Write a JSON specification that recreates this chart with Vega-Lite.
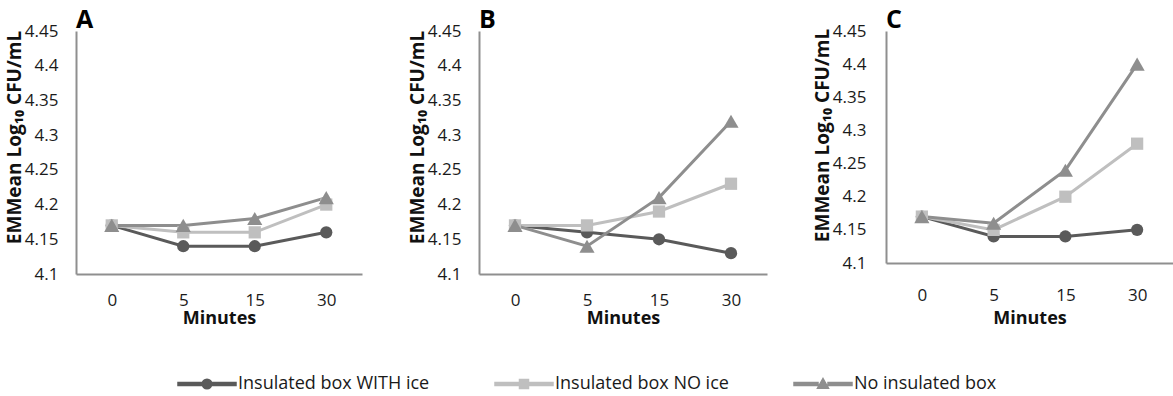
{
  "$schema": "https://vega.github.io/schema/vega-lite/v6.json",
  "background": "white",
  "padding": {"left": 5, "top": 8, "right": 0, "bottom": 4},
  "data": {"values": [
    {"panel": "A", "series": "Insulated box WITH ice", "min": 0, "v": 4.17},
    {"panel": "A", "series": "Insulated box WITH ice", "min": 5, "v": 4.14},
    {"panel": "A", "series": "Insulated box WITH ice", "min": 15, "v": 4.14},
    {"panel": "A", "series": "Insulated box WITH ice", "min": 30, "v": 4.16},
    {"panel": "A", "series": "Insulated box NO ice", "min": 0, "v": 4.17},
    {"panel": "A", "series": "Insulated box NO ice", "min": 5, "v": 4.16},
    {"panel": "A", "series": "Insulated box NO ice", "min": 15, "v": 4.16},
    {"panel": "A", "series": "Insulated box NO ice", "min": 30, "v": 4.20},
    {"panel": "A", "series": "No insulated box", "min": 0, "v": 4.17},
    {"panel": "A", "series": "No insulated box", "min": 5, "v": 4.17},
    {"panel": "A", "series": "No insulated box", "min": 15, "v": 4.18},
    {"panel": "A", "series": "No insulated box", "min": 30, "v": 4.21},
    {"panel": "B", "series": "Insulated box WITH ice", "min": 0, "v": 4.17},
    {"panel": "B", "series": "Insulated box WITH ice", "min": 5, "v": 4.16},
    {"panel": "B", "series": "Insulated box WITH ice", "min": 15, "v": 4.15},
    {"panel": "B", "series": "Insulated box WITH ice", "min": 30, "v": 4.13},
    {"panel": "B", "series": "Insulated box NO ice", "min": 0, "v": 4.17},
    {"panel": "B", "series": "Insulated box NO ice", "min": 5, "v": 4.17},
    {"panel": "B", "series": "Insulated box NO ice", "min": 15, "v": 4.19},
    {"panel": "B", "series": "Insulated box NO ice", "min": 30, "v": 4.23},
    {"panel": "B", "series": "No insulated box", "min": 0, "v": 4.17},
    {"panel": "B", "series": "No insulated box", "min": 5, "v": 4.14},
    {"panel": "B", "series": "No insulated box", "min": 15, "v": 4.21},
    {"panel": "B", "series": "No insulated box", "min": 30, "v": 4.32},
    {"panel": "C", "series": "Insulated box WITH ice", "min": 0, "v": 4.17},
    {"panel": "C", "series": "Insulated box WITH ice", "min": 5, "v": 4.14},
    {"panel": "C", "series": "Insulated box WITH ice", "min": 15, "v": 4.14},
    {"panel": "C", "series": "Insulated box WITH ice", "min": 30, "v": 4.15},
    {"panel": "C", "series": "Insulated box NO ice", "min": 0, "v": 4.17},
    {"panel": "C", "series": "Insulated box NO ice", "min": 5, "v": 4.15},
    {"panel": "C", "series": "Insulated box NO ice", "min": 15, "v": 4.20},
    {"panel": "C", "series": "Insulated box NO ice", "min": 30, "v": 4.28},
    {"panel": "C", "series": "No insulated box", "min": 0, "v": 4.17},
    {"panel": "C", "series": "No insulated box", "min": 5, "v": 4.16},
    {"panel": "C", "series": "No insulated box", "min": 15, "v": 4.24},
    {"panel": "C", "series": "No insulated box", "min": 30, "v": 4.40}
  ]},
  "config": {
    "font": "Open Sans",
    "view": {"stroke": null},
    "axis": {"grid": false, "ticks": false, "domainColor": "#8f8f8f", "domainWidth": 2,
             "labelFont": "Open Sans", "labelFontSize": 17, "labelColor": "#1a1a1a",
             "titleFont": "Open Sans", "titleFontWeight": "bold", "titleColor": "#111111"},
    "axisX": {"labelAngle": 0, "labelPadding": 18, "titlePadding": 1, "titleFontSize": 18},
    "axisY": {"labelPadding": 18, "titlePadding": 0, "titleFontSize": 19, "titleY": 106},
    "title": {"fontSize": 25, "fontWeight": "bold", "anchor": "start", "frame": "group", "offset": -11, "color": "#000000", "font": "Open Sans"},
    "concat": {"spacing": 46}
  },
  "hconcat": [
    {
      "width": 286, "height": 243,
      "title": {"text": "A"},
      "transform": [{"filter": "datum.panel === 'A'"}],
      "encoding": {
        "x": {"field": "min", "type": "ordinal", "scale": {"type": "point", "padding": 0.5}, "title": "Minutes"},
        "y": {"field": "v", "type": "quantitative", "scale": {"domain": [4.1, 4.45], "zero": false, "nice": false},
              "axis": {"values": [4.1, 4.15, 4.2, 4.25, 4.3, 4.35, 4.4, 4.45], "format": ".2~f"},
              "title": "EMMean Log₁₀ CFU/mL"},
        "color": {"field": "series", "type": "nominal",
                  "scale": {"domain": ["Insulated box WITH ice", "Insulated box NO ice", "No insulated box"],
                            "range": ["#5a5a5a", "#bfbfbf", "#8e8e8e"]},
                  "legend": {"orient": "none", "legendX": 120, "legendY": 342, "direction": "horizontal",
                     "title": null, "labelFont": "Open Sans", "labelFontSize": 18, "labelColor": "#1a1a1a",
                     "labelLimit": 400, "symbolSize": 400, "labelOffset": 20, "columnPadding": 62}}
      },
      "layer": [
        {"mark": {"type": "line", "strokeWidth": 3}, "encoding": {}},
        {"transform": [{"filter": "datum.series === 'Insulated box WITH ice'"}],
         "mark": {"type": "point", "shape": "circle", "filled": true, "size": 150, "opacity": 1}},
        {"transform": [{"filter": "datum.series === 'Insulated box NO ice'"}],
         "mark": {"type": "point", "shape": "square", "filled": true, "size": 150, "opacity": 1}},
        {"transform": [{"filter": "datum.series === 'No insulated box'"}],
         "mark": {"type": "point", "shape": "triangle-up", "filled": true, "size": 230, "opacity": 1}},
        {"transform": [{"filter": "false"}],
         "mark": {"type": "point", "filled": true, "opacity": 1, "size": 400},
         "encoding": {"shape": {"field": "series", "type": "nominal",
            "scale": {"domain": ["Insulated box WITH ice", "Insulated box NO ice", "No insulated box"],
                      "range": ["M-2.9,-0.15H-0.45V0.15H-2.9Z M0.45,-0.15H2.9V0.15H0.45Z M-0.48,0A0.48,0.48 0 1,0 0.48,0A0.48,0.48 0 1,0 -0.48,0Z",
                                "M-2.9,-0.15H-0.45V0.15H-2.9Z M0.45,-0.15H2.9V0.15H0.45Z M-0.45,-0.45H0.45V0.45H-0.45Z",
                                "M-2.9,-0.15H-0.5V0.15H-2.9Z M0.5,-0.15H2.9V0.15H0.5Z M0,-0.55L0.55,0.42H-0.55Z"]},
            "legend": {"orient": "none", "legendX": 120, "legendY": 342, "direction": "horizontal",
                     "title": null, "labelFont": "Open Sans", "labelFontSize": 18, "labelColor": "#1a1a1a",
                     "labelLimit": 400, "symbolSize": 400, "labelOffset": 20, "columnPadding": 62}}}}
      ]
    },
    {
      "width": 288, "height": 243,
      "title": {"text": "B"},
      "transform": [{"filter": "datum.panel === 'B'"}],
      "encoding": {
        "x": {"field": "min", "type": "ordinal", "scale": {"type": "point", "padding": 0.5}, "title": "Minutes"},
        "y": {"field": "v", "type": "quantitative", "scale": {"domain": [4.1, 4.45], "zero": false, "nice": false},
              "axis": {"values": [4.1, 4.15, 4.2, 4.25, 4.3, 4.35, 4.4, 4.45], "format": ".2~f"},
              "title": "EMMean Log₁₀ CFU/mL"},
        "color": {"field": "series", "type": "nominal",
                  "scale": {"domain": ["Insulated box WITH ice", "Insulated box NO ice", "No insulated box"],
                            "range": ["#5a5a5a", "#bfbfbf", "#8e8e8e"]},
                  "legend": {"orient": "none", "legendX": 120, "legendY": 342, "direction": "horizontal",
                     "title": null, "labelFont": "Open Sans", "labelFontSize": 18, "labelColor": "#1a1a1a",
                     "labelLimit": 400, "symbolSize": 400, "labelOffset": 20, "columnPadding": 62}}
      },
      "layer": [
        {"mark": {"type": "line", "strokeWidth": 3}, "encoding": {}},
        {"transform": [{"filter": "datum.series === 'Insulated box WITH ice'"}],
         "mark": {"type": "point", "shape": "circle", "filled": true, "size": 150, "opacity": 1}},
        {"transform": [{"filter": "datum.series === 'Insulated box NO ice'"}],
         "mark": {"type": "point", "shape": "square", "filled": true, "size": 150, "opacity": 1}},
        {"transform": [{"filter": "datum.series === 'No insulated box'"}],
         "mark": {"type": "point", "shape": "triangle-up", "filled": true, "size": 230, "opacity": 1}}
      ]
    },
    {
      "width": 287, "height": 232,
      "title": {"text": "C"},
      "transform": [{"filter": "datum.panel === 'C'"}],
      "encoding": {
        "x": {"field": "min", "type": "ordinal", "scale": {"type": "point", "padding": 0.5}, "title": "Minutes",
              "axis": {"labelPadding": 24, "titlePadding": 6}},
        "y": {"field": "v", "type": "quantitative", "scale": {"domain": [4.1, 4.45], "zero": false, "nice": false},
              "axis": {"values": [4.1, 4.15, 4.2, 4.25, 4.3, 4.35, 4.4, 4.45], "format": ".2~f", "labelPadding": 20, "titleY": 104},
              "title": "EMMean Log₁₀ CFU/mL"},
        "color": {"field": "series", "type": "nominal",
                  "scale": {"domain": ["Insulated box WITH ice", "Insulated box NO ice", "No insulated box"],
                            "range": ["#5a5a5a", "#bfbfbf", "#8e8e8e"]},
                  "legend": {"orient": "none", "legendX": 120, "legendY": 342, "direction": "horizontal",
                     "title": null, "labelFont": "Open Sans", "labelFontSize": 18, "labelColor": "#1a1a1a",
                     "labelLimit": 400, "symbolSize": 400, "labelOffset": 20, "columnPadding": 62}}
      },
      "layer": [
        {"mark": {"type": "line", "strokeWidth": 3}, "encoding": {}},
        {"transform": [{"filter": "datum.series === 'Insulated box WITH ice'"}],
         "mark": {"type": "point", "shape": "circle", "filled": true, "size": 150, "opacity": 1}},
        {"transform": [{"filter": "datum.series === 'Insulated box NO ice'"}],
         "mark": {"type": "point", "shape": "square", "filled": true, "size": 150, "opacity": 1}},
        {"transform": [{"filter": "datum.series === 'No insulated box'"}],
         "mark": {"type": "point", "shape": "triangle-up", "filled": true, "size": 230, "opacity": 1}}
      ]
    }
  ],
  "resolve": {"scale": {"y": "independent"}}
}
